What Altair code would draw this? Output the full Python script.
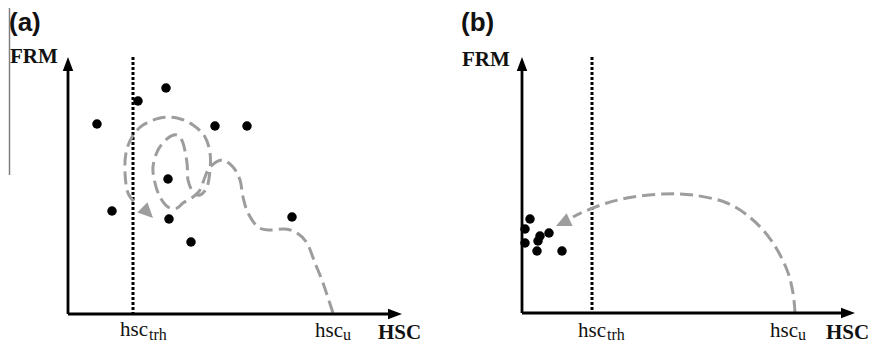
import altair as alt
import pandas as pd

# ---------------- data (page-pixel coordinates of the schematic) ----------------
# panel (a) scatter points
a_pts_x = [97, 138, 166, 215, 247, 168, 112, 169, 191, 292]
a_pts_y = [124, 101, 88, 126, 126, 179, 211, 219, 242, 217]
# panel (b) scatter points
b_pts_x = [530, 525, 549, 540, 538, 525, 537, 562]
b_pts_y = [219, 229, 233, 236, 241, 243, 251, 251]

# panel (a) dashed trajectory (from hsc_u towards the arrow head)
a_path_x = [333, 323, 315, 307, 297, 285, 270, 258, 248, 243, 240, 233, 222, 210, 205, 200,
            193, 183, 177, 168, 160, 155, 153, 158, 168, 177, 183, 187, 188, 193, 200, 207,
            210, 210, 205, 193, 177, 160, 143, 132, 126, 125, 128, 137]
a_path_y = [313, 283, 263, 243, 233, 229, 230, 227, 213, 197, 180, 167, 160, 167, 177, 190,
            197, 203, 208, 207, 197, 183, 167, 150, 138, 135, 143, 163, 180, 192, 195, 187,
            170, 153, 137, 125, 118, 118, 125, 137, 153, 173, 193, 205]
# panel (b) dashed arc
b_path_x = [795, 793, 787, 773, 753, 727, 693, 663, 633, 607, 583, 573]
b_path_y = [313, 293, 270, 243, 220, 203, 195, 194, 197, 203, 212, 217]

# gray arrow heads (tip x, tip y, direction angle)
g_arrow_x = [153, 556]
g_arrow_y = [218, 226]
g_arrow_ang = [45, 155]

# axes lines (x, y, x2, y2)
axis_x = [68, 68, 522, 522]
axis_y = [314, 314, 313, 313]
axis_x2 = [68, 390, 522, 843]
axis_y2 = [70, 314, 70, 313]
# axis arrow heads
ax_arrow_x = [68, 402, 522, 855]
ax_arrow_y = [57, 314, 57, 313]
ax_arrow_ang = [270, 0, 270, 0]

# threshold dotted lines
thr_x = [133, 592]
thr_y = [57, 57]
thr_y2 = [314, 313]

# text labels
panel_labels = ["(a)", "(b)"]
panel_lx = [9, 461]
panel_ly = [31, 31]

bold_labels = ["FRM", "HSC", "FRM", "HSC"]
bold_lx = [10, 378, 462, 826]
bold_ly = [63, 339, 66, 339]

main_labels = ["hsc", "hsc", "hsc", "hsc"]
main_lx = [120, 315, 578, 770]
main_ly = [336, 337, 337, 337]

sub_labels = ["trh", "u", "trh", "u"]
sub_lx = [149, 343, 607, 798]
sub_ly = [340, 340, 340, 340]

# ---------------- scales ----------------
W, H = 863, 336
xs = alt.Scale(domain=[8, 8 + W], nice=False, zero=False)
ys = alt.Scale(domain=[8, 8 + H], nice=False, zero=False, reverse=True)

def X(f="x"):
    return alt.X(f"{f}:Q", scale=xs, axis=None)

def Y(f="y"):
    return alt.Y(f"{f}:Q", scale=ys, axis=None)

GRAY = "#9d9d9d"
ARROW = "M0,0L-2,-0.75L-2,0.75Z"
GARROW = "M0,0L-2,-0.95L-2,0.95Z"

# ---------------- layers ----------------
artifact = alt.Chart(pd.DataFrame({"x": [9.5], "x2": [9.5], "y": [8], "y2": [175]})).mark_rule(
    color="#808080", strokeWidth=1.5
).encode(x=X(), y=Y(), x2="x2:Q", y2="y2:Q")

axes = alt.Chart(pd.DataFrame({"x": axis_x, "y": axis_y, "x2": axis_x2, "y2": axis_y2})).mark_rule(
    color="black", strokeWidth=2.8
).encode(x=X(), y=Y(), x2="x2:Q", y2="y2:Q")

ax_heads = alt.Chart(pd.DataFrame({"x": ax_arrow_x, "y": ax_arrow_y, "a": ax_arrow_ang})).mark_point(
    shape=ARROW, filled=True, size=196, color="black", opacity=1, strokeWidth=0
).encode(x=X(), y=Y(), angle=alt.Angle("a:Q", scale=None))

thr = alt.Chart(pd.DataFrame({"x": thr_x, "y": thr_y, "y2": thr_y2})).mark_rule(
    color="black", strokeWidth=3, strokeDash=[3, 2]
).encode(x=X(), y=Y(), y2="y2:Q")

path_a = alt.Chart(pd.DataFrame({"x": a_path_x, "y": a_path_y, "i": list(range(len(a_path_x)))})).mark_line(
    color=GRAY, strokeWidth=3, strokeDash=[13, 6], interpolate="cardinal"
).encode(x=X(), y=Y(), order=alt.Order("i:Q"))

path_b = alt.Chart(pd.DataFrame({"x": b_path_x, "y": b_path_y, "i": list(range(len(b_path_x)))})).mark_line(
    color=GRAY, strokeWidth=3, strokeDash=[13, 6], interpolate="cardinal"
).encode(x=X(), y=Y(), order=alt.Order("i:Q"))

g_heads = alt.Chart(pd.DataFrame({"x": g_arrow_x, "y": g_arrow_y, "a": g_arrow_ang})).mark_point(
    shape=GARROW, filled=True, size=225, color=GRAY, opacity=1, strokeWidth=0
).encode(x=X(), y=Y(), angle=alt.Angle("a:Q", scale=None))

pts = alt.Chart(pd.DataFrame({"x": a_pts_x + b_pts_x, "y": a_pts_y + b_pts_y})).mark_circle(
    color="black", size=90, opacity=1
).encode(x=X(), y=Y())

t_panel = alt.Chart(pd.DataFrame({"x": panel_lx, "y": panel_ly, "t": panel_labels})).mark_text(
    align="left", baseline="alphabetic", font="Liberation Sans", fontSize=26, fontWeight="bold", color="#111111"
).encode(x=X(), y=Y(), text="t:N")

t_bold = alt.Chart(pd.DataFrame({"x": bold_lx, "y": bold_ly, "t": bold_labels})).mark_text(
    align="left", baseline="alphabetic", font="Liberation Serif", fontSize=21, fontWeight="bold", color="#111111"
).encode(x=X(), y=Y(), text="t:N")

t_main = alt.Chart(pd.DataFrame({"x": main_lx, "y": main_ly, "t": main_labels})).mark_text(
    align="left", baseline="alphabetic", font="Liberation Serif", fontSize=21, color="#111111"
).encode(x=X(), y=Y(), text="t:N")

t_sub = alt.Chart(pd.DataFrame({"x": sub_lx, "y": sub_ly, "t": sub_labels})).mark_text(
    align="left", baseline="alphabetic", font="Liberation Serif", fontSize=16, color="#111111"
).encode(x=X(), y=Y(), text="t:N")

chart = alt.layer(
    artifact, thr, path_a, path_b, g_heads, axes, ax_heads, pts, t_panel, t_bold, t_main, t_sub
).properties(
    width=W, height=H, padding=0, autosize=alt.AutoSizeParams(type="none")
).configure_view(strokeWidth=0)

chart.save("out.html", embed_options={"renderer": "svg", "actions": False})
